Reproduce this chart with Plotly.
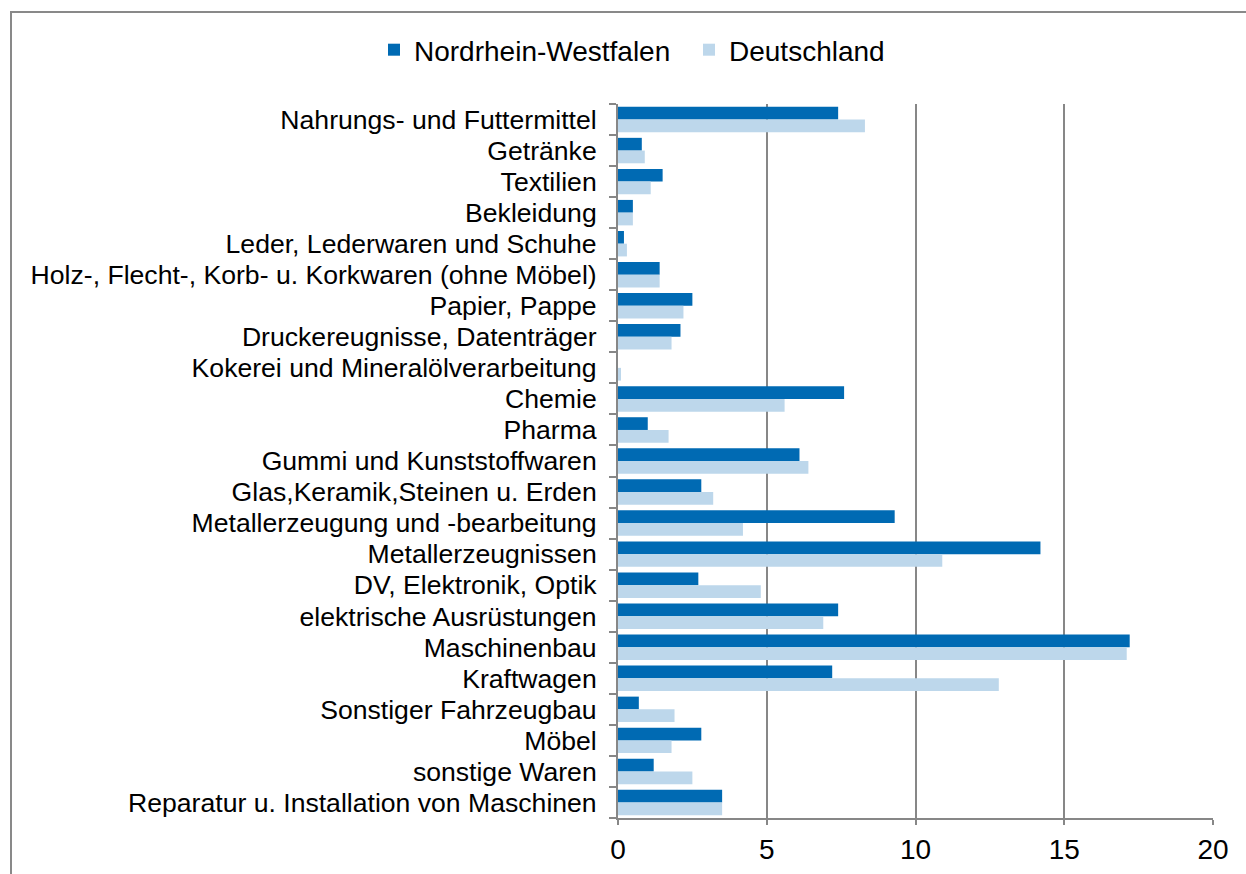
import plotly.graph_objects as go

categories = [
    "Nahrungs- und Futtermittel",
    "Getränke",
    "Textilien",
    "Bekleidung",
    "Leder, Lederwaren und Schuhe",
    "Holz-, Flecht-, Korb- u. Korkwaren (ohne Möbel)",
    "Papier, Pappe",
    "Druckereugnisse, Datenträger",
    "Kokerei und Mineralölverarbeitung",
    "Chemie",
    "Pharma",
    "Gummi und Kunststoffwaren",
    "Glas,Keramik,Steinen u. Erden",
    "Metallerzeugung und -bearbeitung",
    "Metallerzeugnissen",
    "DV, Elektronik, Optik",
    "elektrische Ausrüstungen",
    "Maschinenbau",
    "Kraftwagen",
    "Sonstiger Fahrzeugbau",
    "Möbel",
    "sonstige Waren",
    "Reparatur u. Installation von Maschinen",
]

nrw = [7.4, 0.8, 1.5, 0.5, 0.2, 1.4, 2.5, 2.1, 0.0, 7.6, 1.0, 6.1, 2.8, 9.3,
       14.2, 2.7, 7.4, 17.2, 7.2, 0.7, 2.8, 1.2, 3.5]
deutschland = [8.3, 0.9, 1.1, 0.5, 0.3, 1.4, 2.2, 1.8, 0.1, 5.6, 1.7, 6.4, 3.2, 4.2,
               10.9, 4.8, 6.9, 17.1, 12.8, 1.9, 1.8, 2.5, 3.5]

x_ticks = [0, 5, 10, 15, 20]

FONT = "Liberation Sans, Arial, sans-serif"
GRID = "#878787"

W, H = 1246, 874
L, R, T, B = 618, 33, 104, 56
PW, PH = W - L - R, H - T - B

fig = go.Figure()
fig.add_trace(go.Bar(
    y=categories, x=nrw, name="Nordrhein-Westfalen", orientation="h",
    marker=dict(color="#006AB3", line=dict(width=0)),
))
fig.add_trace(go.Bar(
    y=categories, x=deutschland, name="Deutschland", orientation="h",
    marker=dict(color="#BDD7EB", line=dict(width=0)),
))

fig.update_layout(
    width=W, height=H,
    margin=dict(l=L, r=R, t=T, b=B, pad=0, autoexpand=False),
    paper_bgcolor="white", plot_bgcolor="white",
    font=dict(family=FONT, size=27, color="black"),
    barmode="group", bargap=0.18, bargroupgap=0.0,
    showlegend=True,
    legend=dict(
        orientation="h", x=(374 - L) / PW, xanchor="left",
        y=1 + (T - 50) / PH, yanchor="middle",
        font=dict(family=FONT, size=28, color="black"),
        traceorder="normal", entrywidth=270, entrywidthmode="pixels",
        bgcolor="rgba(0,0,0,0)", borderwidth=0,
    ),
    xaxis=dict(
        range=[0, 20], tickvals=x_ticks, ticktext=[str(v) for v in x_ticks],
        showgrid=True, gridcolor=GRID, gridwidth=1.5,
        showline=True, linecolor=GRID, linewidth=2,
        ticks="outside", ticklen=5, tickcolor=GRID, tickwidth=2,
        tickfont=dict(family=FONT, size=28, color="black"),
        ticklabelstandoff=0, automargin=False,
        zeroline=False, fixedrange=True,
    ),
    yaxis=dict(
        type="category", autorange="reversed",
        tickmode="array", tickvals=categories,
        showgrid=False, showline=True, linecolor=GRID, linewidth=2,
        ticks="outside", ticklen=7, tickcolor=GRID, tickwidth=2,
        tickson="boundaries",
        tickfont=dict(family=FONT, size=26.6, color="black"),
        ticklabelstandoff=14, automargin=False,
        zeroline=False, fixedrange=True,
    ),
    shapes=[
        dict(type="rect", xref="paper", yref="paper",
             x0=(11 - L) / PW, x1=1 + (R + 40) / PW,
             y0=-(B + 40) / PH, y1=1 + (T - 12) / PH,
             line=dict(color="#898989", width=2), fillcolor="rgba(0,0,0,0)",
             layer="below"),
    ],
)

fig.write_html(
    "out.html",
    config={"displayModeBar": False},
    post_script="document.body.style.margin='0px';document.body.style.overflow='hidden';",
)
